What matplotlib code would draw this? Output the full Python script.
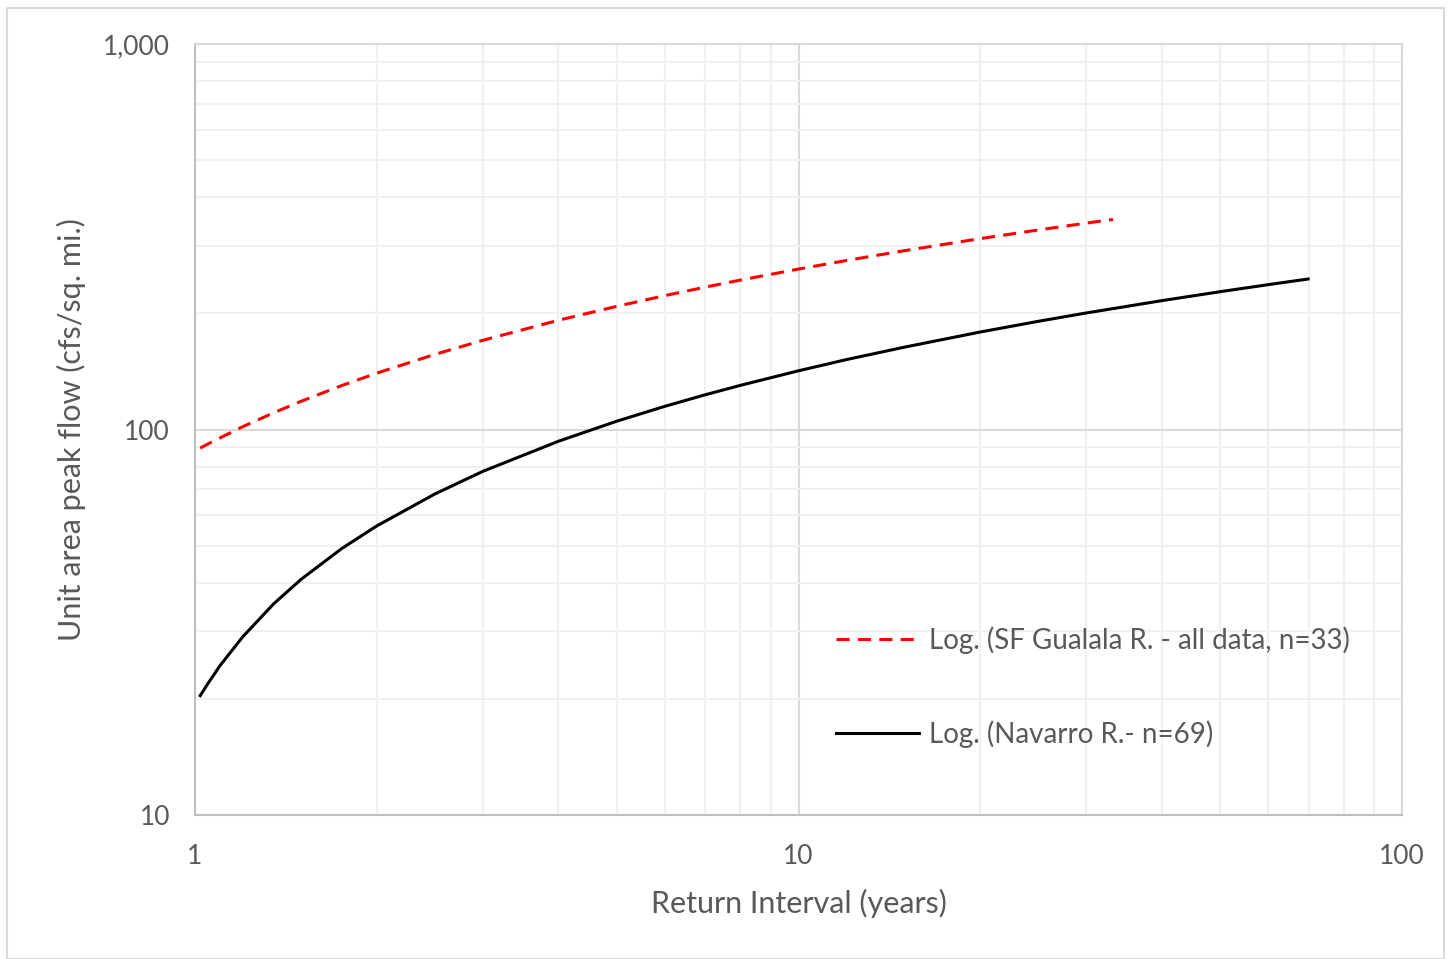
import matplotlib
matplotlib.use("Agg")
import matplotlib.pyplot as plt
from matplotlib.ticker import FixedLocator, NullFormatter, FuncFormatter
from matplotlib.patches import Rectangle

plt.rcParams['font.family'] = ['Lato', 'DejaVu Sans']

gualala_x = [1.02, 1.05, 1.1, 1.2, 1.35, 1.5, 1.75, 2, 2.5, 3, 4, 5, 6, 7, 8, 10, 12, 15, 20, 25, 30, 33.2]
gualala_y = [89.5, 91.7, 95.1, 101.7, 110.5, 118.4, 130.0, 140.0, 156.7, 170.4, 192.0, 208.7,
             222.4, 234.0, 244.0, 260.7, 274.4, 291.1, 312.7, 329.4, 343.1, 350.6]

navarro_x = [1.02, 1.05, 1.1, 1.2, 1.35, 1.5, 1.75, 2, 2.5, 3, 4, 5, 6, 7, 8, 10, 12, 15, 20, 25,
             30, 40, 50, 60, 69.9]
navarro_y = [20.4, 21.9, 24.4, 29.0, 35.3, 40.9, 49.1, 56.2, 68.1, 77.9, 93.2, 105.1, 114.8, 123.0,
             130.1, 142.0, 151.8, 163.6, 179.0, 190.9, 200.6, 215.9, 227.8, 237.5, 245.7]

label_gualala = "Log. (SF Gualala R. - all data, n=33)"
label_navarro = "Log. (Navarro R.- n=69)"
x_label = "Return Interval (years)"
y_label = "Unit area peak flow (cfs/sq. mi.)"

text_color = "#595959"

fig = plt.figure(figsize=(14.52, 9.59), dpi=100)
ax = fig.add_axes([195/1452, 1 - 815/959, (1402-195)/1452, (815-44)/959])

ax.set_xscale('log')
ax.set_yscale('log')
ax.set_xlim(1, 100)
ax.set_ylim(10, 1000)

ax.plot(gualala_x, gualala_y, color='#ff0000', lw=2.2, dashes=(4.3, 2.7), label=label_gualala, zorder=3)
ax.plot(navarro_x, navarro_y, color='black', lw=2.2, label=label_navarro, zorder=3)

# gridlines
ax.xaxis.set_major_locator(FixedLocator([1, 10, 100]))
ax.yaxis.set_major_locator(FixedLocator([10, 100, 1000]))
ax.xaxis.set_minor_locator(FixedLocator([m * d for d in (1, 10) for m in range(2, 10)]))
ax.yaxis.set_minor_locator(FixedLocator([m * d for d in (10, 100) for m in range(2, 10)]))
ax.xaxis.set_minor_formatter(NullFormatter())
ax.yaxis.set_minor_formatter(NullFormatter())
ax.xaxis.set_major_formatter(FuncFormatter(lambda v, p: f"{v:,.0f}"))
ax.yaxis.set_major_formatter(FuncFormatter(lambda v, p: f"{v:,.0f}"))
ax.grid(which='major', color='#d9d9d9', lw=1.5, zorder=0)
ax.grid(which='minor', color='#f0f0f0', lw=1.5, zorder=0)
ax.set_axisbelow(True)

ax.tick_params(which='both', length=0)
ax.tick_params(axis='y', pad=18, labelsize=19, labelcolor=text_color)
ax.tick_params(axis='x', pad=21, labelsize=19, labelcolor=text_color)

for side in ('left', 'bottom'):
    ax.spines[side].set_color('#bfbfbf')
    ax.spines[side].set_linewidth(1.5)
for side in ('top', 'right'):
    ax.spines[side].set_color('#d9d9d9')
    ax.spines[side].set_linewidth(1.5)

ax.set_xlabel(x_label, fontsize=22, color=text_color, labelpad=14)
ax.set_ylabel(y_label, fontsize=22, color=text_color, labelpad=12)

leg = ax.legend(loc='upper left', bbox_to_anchor=(836/1452, 1 - 626/959), bbox_transform=fig.transFigure,
                frameon=False, fontsize=20, handlelength=3.0, handletextpad=0.36, labelspacing=2.4,
                borderaxespad=0, borderpad=0)
for t in leg.get_texts():
    t.set_color(text_color)

# outer chart border
fig.patches.append(Rectangle((7/1452, 0), (1444-7)/1452, 1 - 8/959, transform=fig.transFigure,
                             fill=False, edgecolor='#d9d9d9', lw=1.5))

fig.savefig('out.png', dpi=100)
